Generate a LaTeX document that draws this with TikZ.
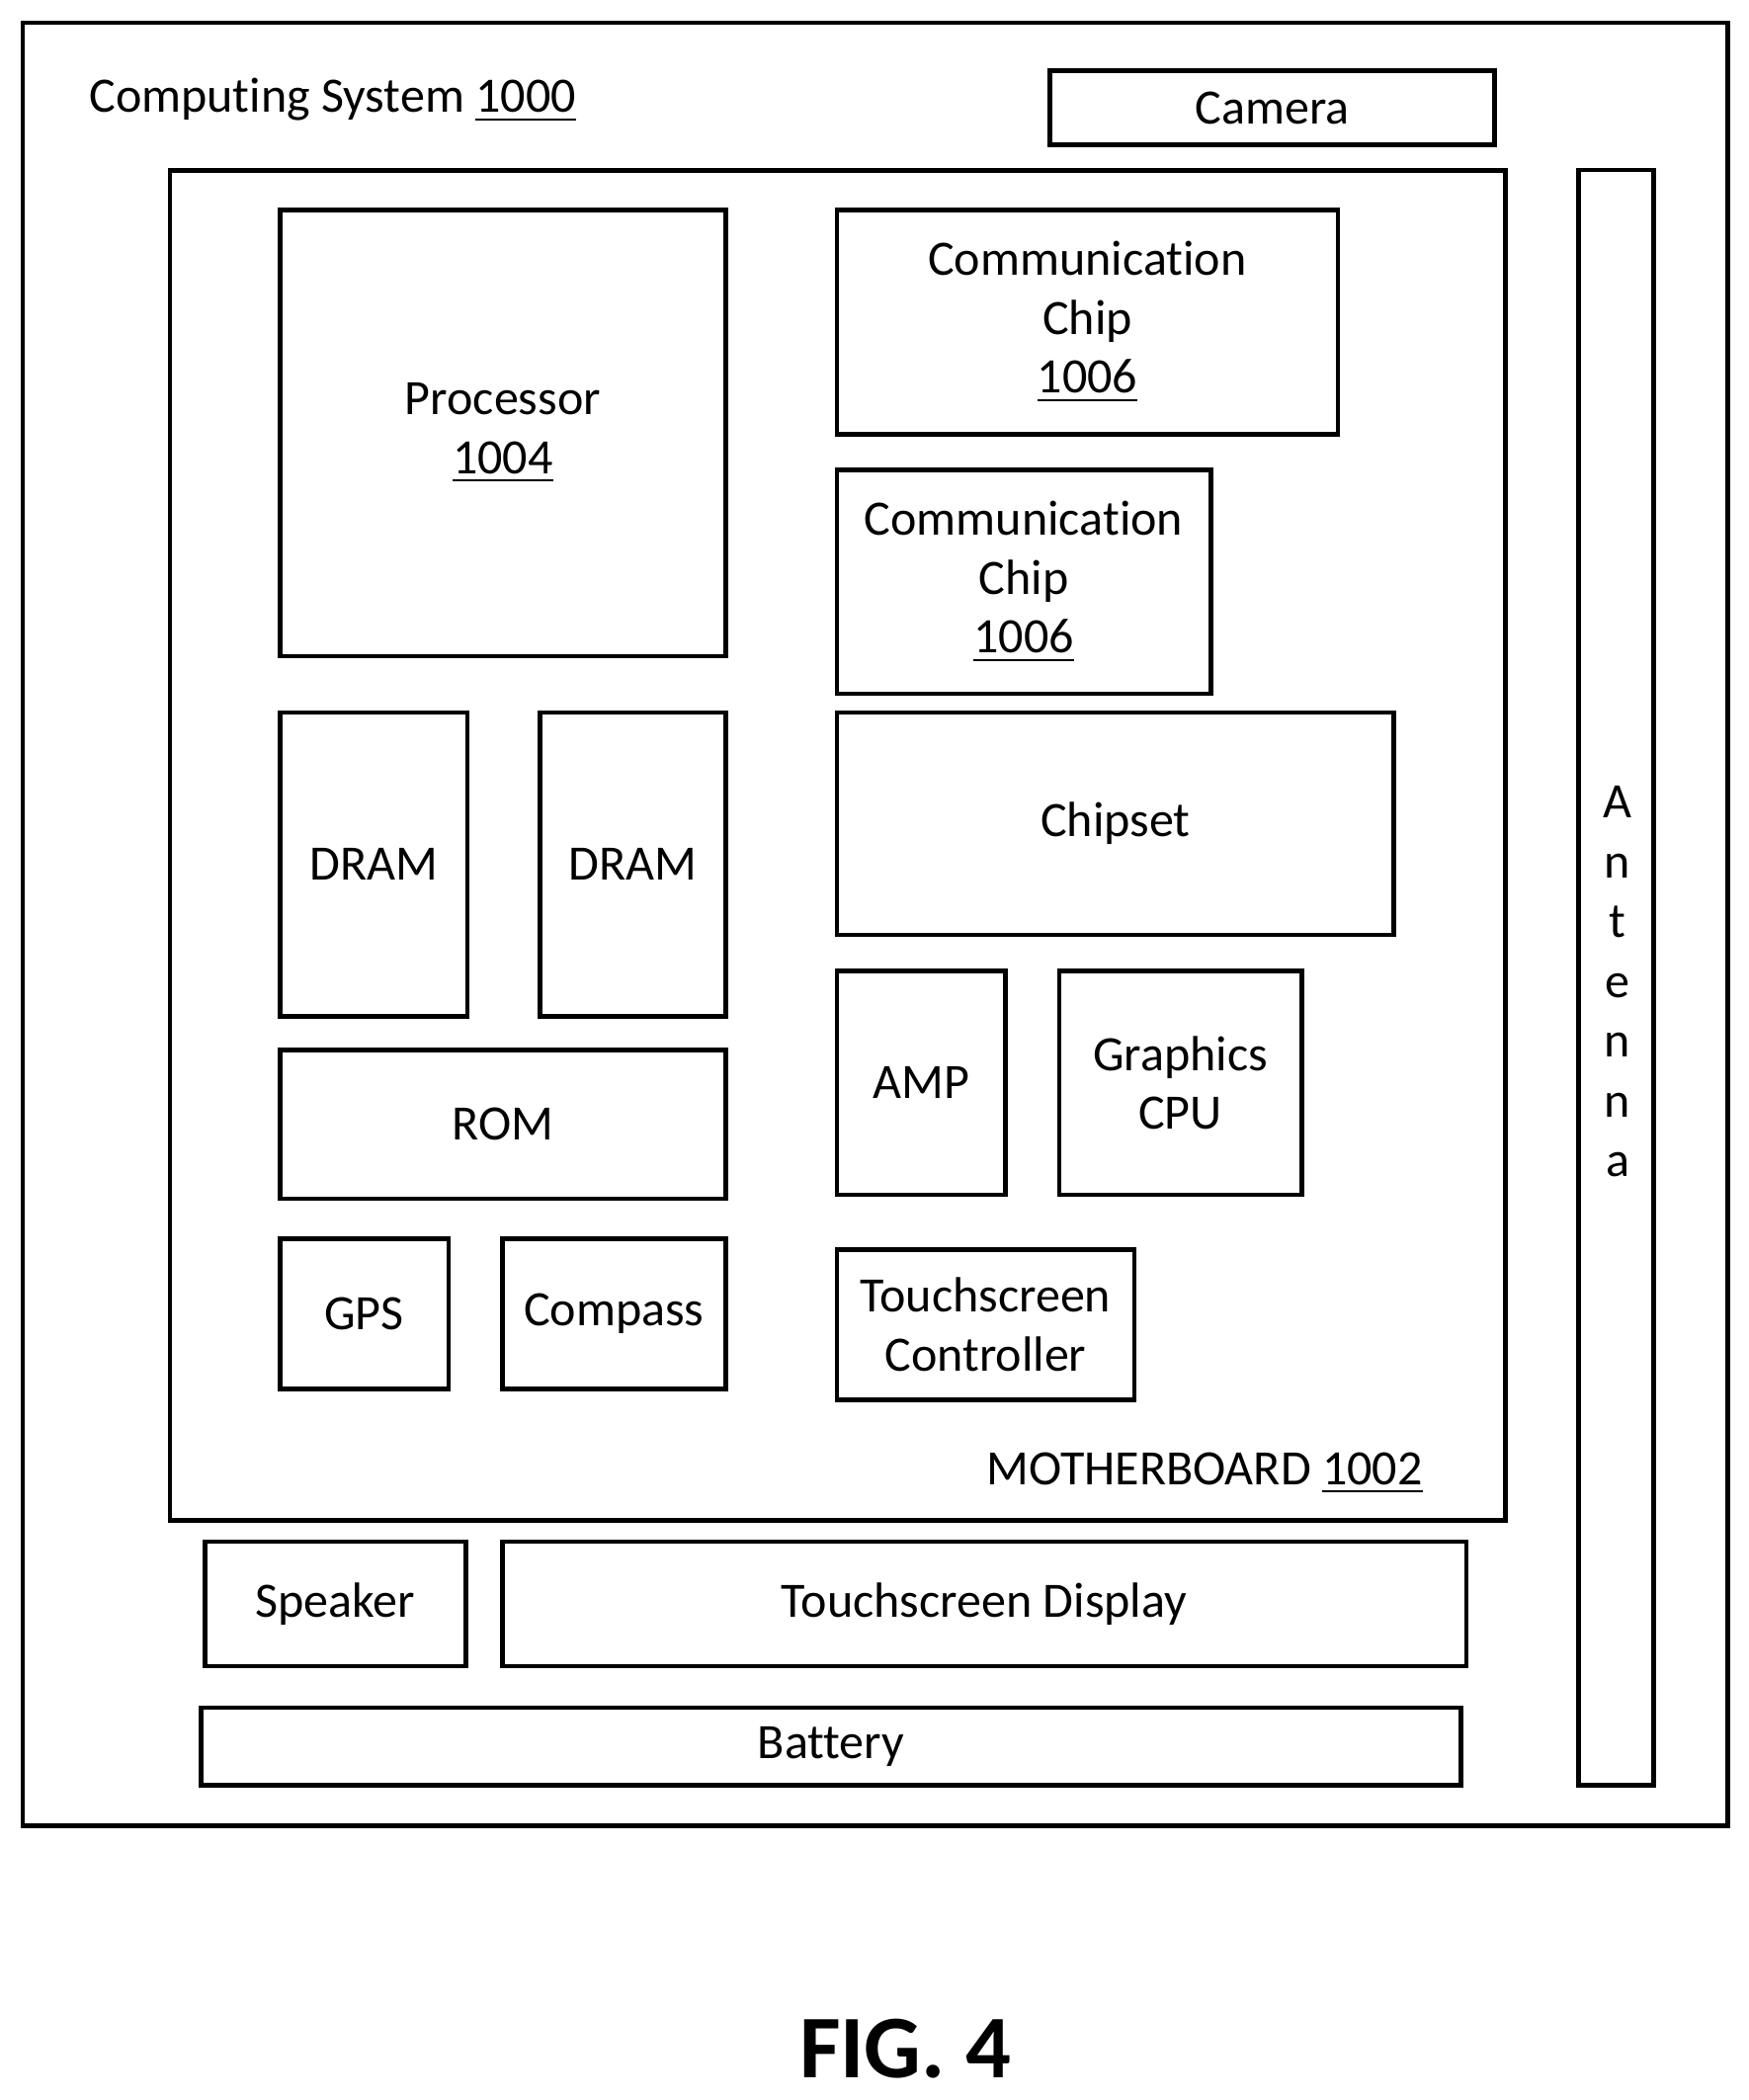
\documentclass[tikz,border=0pt]{standalone}
\usepackage{fontspec}
\setmainfont[Ligatures={NoCommon}]{Carlito}
\begin{document}
\begin{tikzpicture}[x=0.01cm,y=-0.01cm,
  box/.style={draw,line width=1pt,inner sep=0pt,align=center,font=\fontsize{10.5}{12.5}\selectfont},
  lbl/.style={inner sep=0pt,font=\fontsize{10.5}{12.5}\selectfont}]
\useasboundingbox (0,0) rectangle (1306,1568);
\newcommand\bx[6]{%
  \pgfmathsetmacro\bw{(#4-#2)*0.01}\pgfmathsetmacro\bh{(#5-#3)*0.01}%
  \node[box,minimum width=\bw cm,minimum height=\bh cm] (#1) at ({(#2+#4)/2},{(#3+#5)/2}) {#6};}
\bx{outer}{17}{17}{1290}{1363}{}
\bx{camera}{784}{53}{1116}{108}{Camera}
\bx{mb}{127}{127}{1124}{1135}{}
\bx{antenna}{1179}{127}{1235}{1333}{}
\bx{proc}{209}{157}{542}{490}{Processor\\\underline{1004}}
\bx{comA}{625}{157}{999}{324}{Communication\\Chip\\\underline{1006}}
\bx{comB}{625}{351}{904}{518}{Communication\\Chip\\\underline{1006}}
\bx{dramA}{209}{532}{349}{759}{DRAM}
\bx{dramB}{403}{532}{542}{759}{DRAM}
\bx{chipset}{625}{532}{1041}{698}{Chipset}
\bx{amp}{625}{725}{751}{892}{AMP}
\bx{gcpu}{791}{725}{972}{892}{Graphics\\CPU}
\bx{rom}{209}{784}{542}{895}{ROM}
\bx{gps}{209}{925}{335}{1037}{GPS}
\bx{compass}{375}{925}{542}{1037}{Compass}
\bx{tsc}{625}{933}{847}{1045}{Touchscreen\\Controller}
\bx{speaker}{153}{1151}{348}{1244}{Speaker}
\bx{tsd}{375}{1151}{1095}{1244}{Touchscreen Display}
\bx{battery}{150}{1275}{1091}{1333}{Battery}
\node[lbl,anchor=west] (cs) at (66,75) {Computing System \underline{1000}};
\node[lbl,anchor=east] (mbl) at (1063,1100) {MOTHERBOARD \underline{1002}};
\node[lbl,align=center] (ant) at (1208,733) {A\\[0.2pt]n\\[0.2pt]t\\[0.2pt]e\\[0.2pt]n\\[0.2pt]n\\[0.2pt]a};
\node[inner sep=0pt,font=\fontsize{19}{23}\selectfont\bfseries] (fig) at (676,1530) {FIG. 4};
\end{tikzpicture}
\end{document}
